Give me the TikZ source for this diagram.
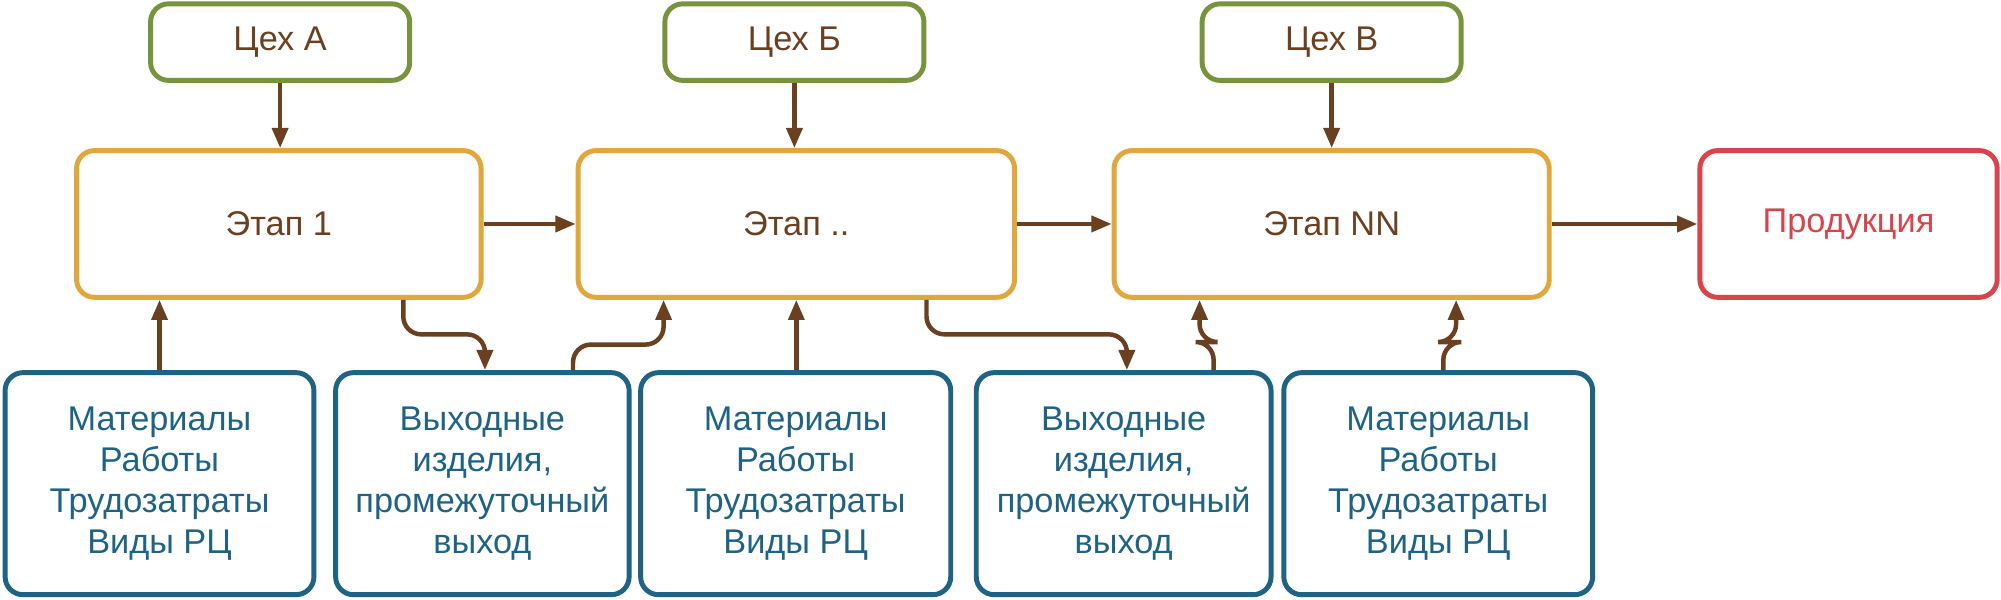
\documentclass[tikz,border=0pt]{standalone}
\usepackage{fontspec}
\setmainfont{Liberation Sans}
\usetikzlibrary{arrows.meta}
\definecolor{gr}{HTML}{77933C}
\definecolor{orn}{HTML}{E0A83C}
\definecolor{rd}{HTML}{D9434B}
\definecolor{bl}{HTML}{1F6384}
\definecolor{br}{HTML}{6B4020}
\begin{document}
\begin{tikzpicture}[x=0.02cm,y=-0.02cm,
 box/.style={draw,line width=2.2pt,rounded corners=8pt,align=center,inner sep=0pt,font=\fontsize{15.3}{18.2}\selectfont},
 cex/.style={box,draw=gr,text=br,minimum width=203*0.02cm,minimum height=60*0.02cm},
 etap/.style={box,draw=orn,text=br,minimum width=320*0.02cm,minimum height=115*0.02cm},
 prod/.style={box,draw=rd,text=rd,minimum width=233*0.02cm,minimum height=115*0.02cm},
 res/.style={box,draw=bl,text=bl,minimum width=236*0.02cm,minimum height=174*0.02cm},
 ar/.style={draw=br,line width=2pt,-{Triangle[length=9pt,width=7pt]},rounded corners=8pt}]
\useasboundingbox (0,0) rectangle (1568,470);
\node[cex] (ca) at (219.5,33) {Цех А};
\node[cex] (cb) at (622.5,33) {Цех Б};
\node[cex] (cv) at (1043.5,33) {Цех В};
\node[etap,minimum width=317*0.02cm] (e1) at (218.5,175.5) {Этап 1};
\node[etap,minimum width=342*0.02cm] (e2) at (624,175.5) {Этап ..};
\node[etap,minimum width=341*0.02cm] (e3) at (1043.5,175.5) {Этап NN};
\node[prod] (p) at (1448.5,175.5) {Продукция};
\node[res,minimum width=242*0.02cm] (m1) at (125,379) {Материалы\\Работы\\Трудозатраты\\Виды РЦ};
\node[res,minimum width=230*0.02cm] (v1) at (378,379) {Выходные\\изделия,\\промежуточный\\выход};
\node[res,minimum width=243*0.02cm] (m2) at (623.5,379) {Материалы\\Работы\\Трудозатраты\\Виды РЦ};
\node[res,minimum width=231*0.02cm] (v2) at (880.5,379) {Выходные\\изделия,\\промежуточный\\выход};
\node[res,minimum width=242*0.02cm] (m3) at (1127,379) {Материалы\\Работы\\Трудозатраты\\Виды РЦ};
\draw[ar] (ca) -- (e1.north -| ca);
\draw[ar] (cb) -- (e2.north -| cb);
\draw[ar] (cv) -- (e3.north -| cv);
\draw[ar] (e1) -- (e2);
\draw[ar] (e2) -- (e3);
\draw[ar] (e3) -- (p);
\draw[ar] (m1.north -| 125,0) -- (e1.south -| 125,0);
\draw[ar] (m2.north -| 624,0) -- (e2.south -| 624,0);
\draw[ar] (e1.south -| 316,0) -- (316,262) -- (380,262) -- (v1.north -| 380,0);
\draw[ar] (v1.north -| 449,0) -- (449,270) -- (520,270) -- (e2.south -| 520,0);
\draw[ar] (e2.south -| 726,0) -- (726,262) -- (883,262) -- (v2.north -| 883,0);
\draw[ar] (v2.north -| 951,0) -- (951,268) -- (940,268) -- (e3.south -| 940,0);
\draw[ar] (m3.north -| 1131,0) -- (1131,268) -- (1141,268) -- (e3.south -| 1141,0);
\end{tikzpicture}
\end{document}
